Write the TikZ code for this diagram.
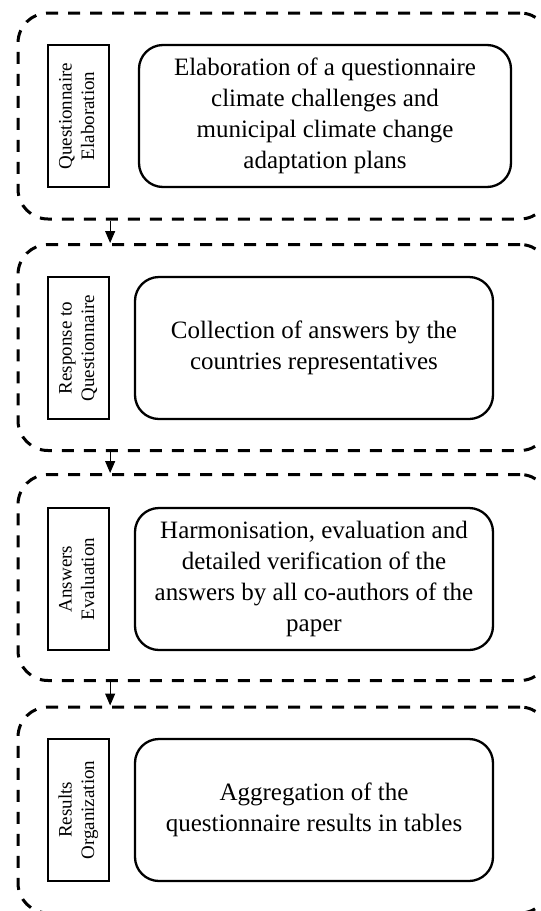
\documentclass[tikz,border=0pt]{standalone}
\usepackage{fontspec}
\setmainfont{Liberation Serif}
\usetikzlibrary{arrows.meta}
\begin{document}
\begin{tikzpicture}[x=1pt,y=-1pt,
 stage/.style={draw, dash pattern=on 12pt off 10pt, line width=3pt, rounded corners=30pt, minimum width=532pt, minimum height=206pt, inner sep=0pt},
 lab/.style={draw, line width=2.3pt, minimum width=61pt, minimum height=142pt, inner sep=0pt, font=\fontsize{19}{22.5}\selectfont},
 task/.style={draw, line width=2.3pt, rounded corners=24pt, minimum height=142pt, align=center, inner sep=0pt, font=\fontsize{25}{31}\selectfont},
 arr/.style={line width=1pt, -{Triangle[length=12pt,width=10pt]}}]
\useasboundingbox (0,0) rectangle (541,911);

\node[stage] (c1) at (284,116) {};
\node[stage] (c2) at (284,347.5) {};
\node[stage] (c3) at (284,577.5) {};
\node[stage] (c4) at (284,810) {};

\node[lab] (l1) at (78.5,116) {\rotatebox{90}{\begin{tabular}{@{}c@{}}Questionnaire\\Elaboration\end{tabular}}};
\node[lab] (l2) at (78.5,348) {\rotatebox{90}{\begin{tabular}{@{}c@{}}Response to\\Questionnaire\end{tabular}}};
\node[lab] (l3) at (78.5,579) {\rotatebox{90}{\begin{tabular}{@{}c@{}}Answers\\Evaluation\end{tabular}}};
\node[lab] (l4) at (78.5,810) {\rotatebox{90}{\begin{tabular}{@{}c@{}}Results\\Organization\end{tabular}}};

\node[task, minimum width=372pt] (t1) at (325,116) {Elaboration of a questionnaire\\climate challenges and\\municipal climate change\\adaptation plans};
\node[task, minimum width=358pt] (t2) at (314,348) {Collection of answers by the\\countries representatives};
\node[task, minimum width=358pt] (t3) at (314,579) {Harmonisation, evaluation and\\detailed verification of the\\answers by all co-authors of the\\paper};
\node[task, minimum width=358pt] (t4) at (314,810) {Aggregation of the\\questionnaire results in tables};

\draw[arr] (l1.east |- c1.south) -- (l1.east |- c2.north);
\draw[arr] (l2.east |- c2.south) -- (l2.east |- c3.north);
\draw[arr] (l3.east |- c3.south) -- (l3.east |- c4.north);
\end{tikzpicture}
\end{document}
